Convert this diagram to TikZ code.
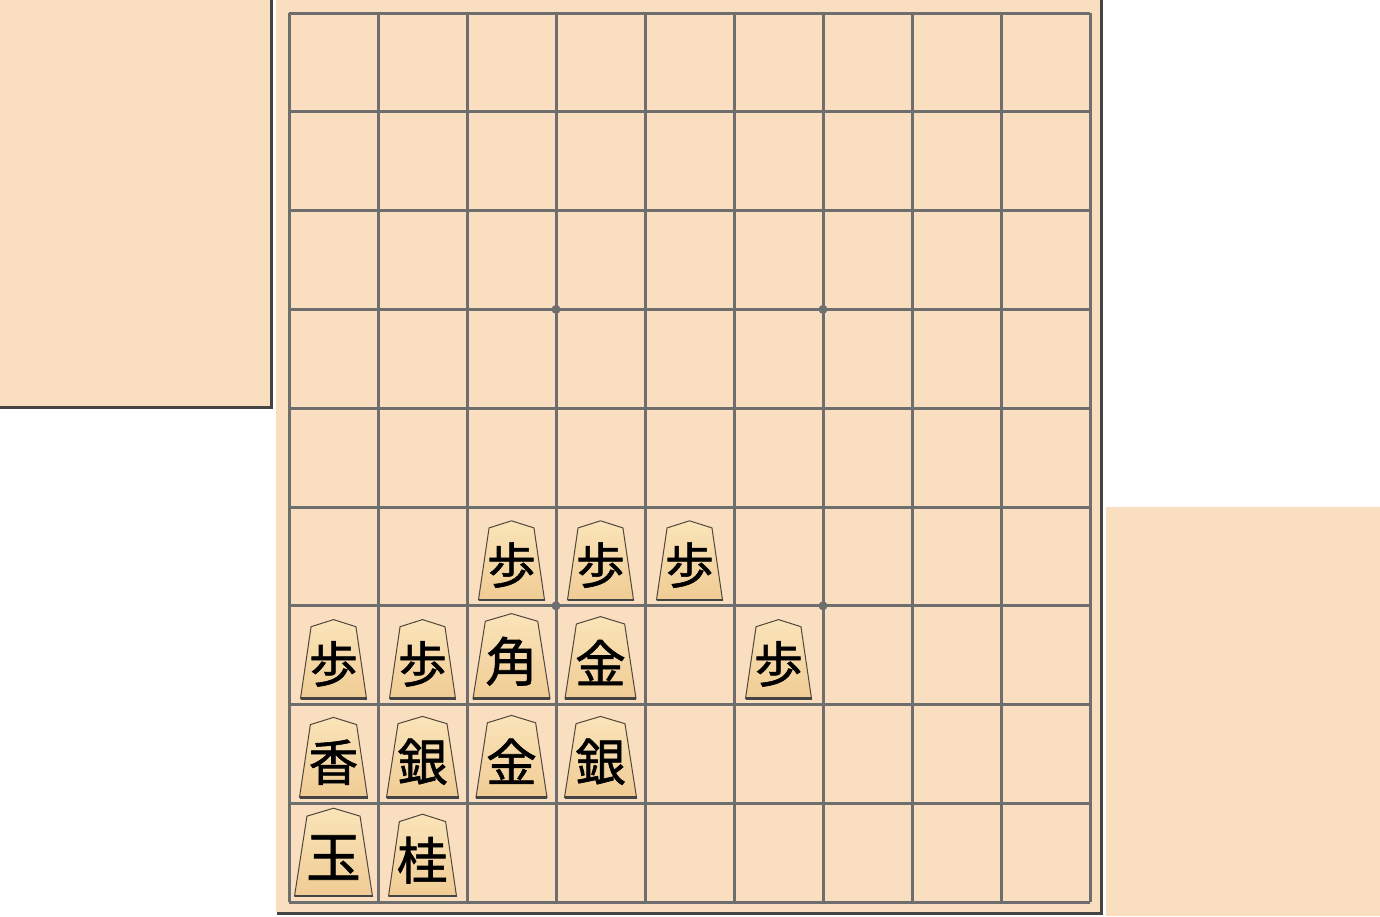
\documentclass[tikz,border=0pt]{standalone}
\usepackage{fontspec}
\usepackage{tikz}
\usepackage{xcolor}
\newfontfamily\kanji[FakeBold=1.2]{Noto Sans CJK JP}
\definecolor{ban}{RGB}{250,222,192}
\definecolor{sen}{RGB}{110,110,110}
\definecolor{kage}{RGB}{68,68,68}
\definecolor{komatop}{RGB}{250,228,185}
\definecolor{komabot}{RGB}{240,204,148}
\definecolor{komaline}{RGB}{80,70,60}

\begin{document}
\begin{tikzpicture}[x=1pt,y=-1pt,
  grid/.style={draw=sen,line width=3pt},
  koma/.style={draw=komaline,line width=1pt,top color=komatop,bottom color=komabot},
  komabase/.style={draw=kage,line width=2.5pt},
  komaji/.style={font=\kanji,inner sep=0pt}]
\useasboundingbox (0,0) rectangle (1380,916);
% piece stands and board
\fill[ban] (0,0) rectangle (270,406);
\draw[kage,line width=3pt] (271.5,0) -- (271.5,407.5) -- (0,407.5);
\fill[ban] (1106,507) rectangle (1380,916);
\fill[ban] (276,0) rectangle (1100,912);
\draw[kage,line width=3pt] (1101.5,0) -- (1101.5,913.5) -- (277,913.5);
% grid
\foreach \i in {0,...,9} {
  \draw[grid] (289+89*\i,13) -- (289+89*\i,902);
  \draw[grid] (289,13+98.8*\i) -- (1090,13+98.8*\i);
}
\foreach \i/\j in {3/3,6/3,3/6,6/6}
  \fill[sen] (289+89*\i,13+98.8*\j) circle (4.5);
% pieces
\foreach \c/\r/\k/\w/\h in {0/8/玉/78/88, 1/8/桂/68/82, 0/7/香/68/80, 1/7/銀/72/81,
    2/7/金/71/82, 3/7/銀/72/81, 0/6/歩/66/79, 1/6/歩/66/79, 2/6/角/77/85,
    3/6/金/71/82, 5/6/歩/66/79, 2/5/歩/66/79, 3/5/歩/66/79, 4/5/歩/66/79} {
  \pgfmathsetmacro\X{333.5+89*\c}
  \pgfmathsetmacro\B{13+98.8*(\r+1)-6}
  \pgfmathsetmacro\fs{0.62*\h}
  \draw[koma] (\X-\w/2,\B) -- (\X-0.34*\w,\B-0.91*\h) -- (\X,\B-\h)
    -- (\X+0.34*\w,\B-0.91*\h) -- (\X+\w/2,\B) -- cycle;
  \draw[komabase] (\X-\w/2,\B) -- (\X+\w/2,\B);
  \node[komaji] (k\c\r) at (\X,\B-0.44*\h) {\fontsize{\fs}{\fs}\selectfont\k};
}
\end{tikzpicture}
\end{document}
